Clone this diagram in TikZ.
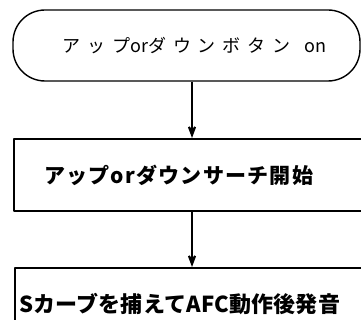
\documentclass[tikz,border=0pt]{standalone}
\usepackage{fontspec}
\usetikzlibrary{arrows.meta,positioning}
\newfontfamily\jpfont{Noto Sans CJK JP}
\newfontfamily\jpwide[LetterSpace=38]{Noto Sans CJK JP}
\newfontfamily\jpmid[LetterSpace=6]{Noto Sans CJK JP}
\newfontfamily\jpnarrow[LetterSpace=1]{Noto Sans CJK JP}
\begin{document}
\begin{tikzpicture}[x=1pt,y=-1pt,line join=round,>={Stealth[length=20pt,width=15pt,inset=12pt]}]
	\tikzset{startbox/.style={draw,line width=1.4pt,rounded corners=32pt,minimum width=347pt,minimum height=71pt,inner sep=0pt},
		procbox/.style={draw,line width=2pt,minimum height=72pt,inner ysep=0pt,anchor=north west,align=left},
		flow/.style={->,line width=2pt}}
	\useasboundingbox (0,0) rectangle (361,320);
	\begin{scope}
		\clip (0,0) rectangle (361,320);
		% start
		\node[startbox] (start) at (186.5,45.5) {\fontsize{18}{18}\selectfont\hspace*{16pt}{\jpwide アップ}{\jpfont or}{\jpwide ダウンボタン}\hspace{14pt}{\jpfont on}};
		% steps
		\node[procbox,inner xsep=30pt,text width=296pt] (search) at (13,138) {\fontsize{21}{21}\selectfont\jpmid\bfseries アップorダウンサーチ開始};
		\node[procbox,inner xsep=4pt,text width=346pt] (sound) at (14,267) {\fontsize{22}{22}\selectfont\jpnarrow\bfseries Sカーブを捕えてAFC動作後発音};
	\end{scope}
	\draw[flow] (start.south -| search.north) -- (search.north);
	\draw[flow] (search) -- (sound);
\end{tikzpicture}
\end{document}
